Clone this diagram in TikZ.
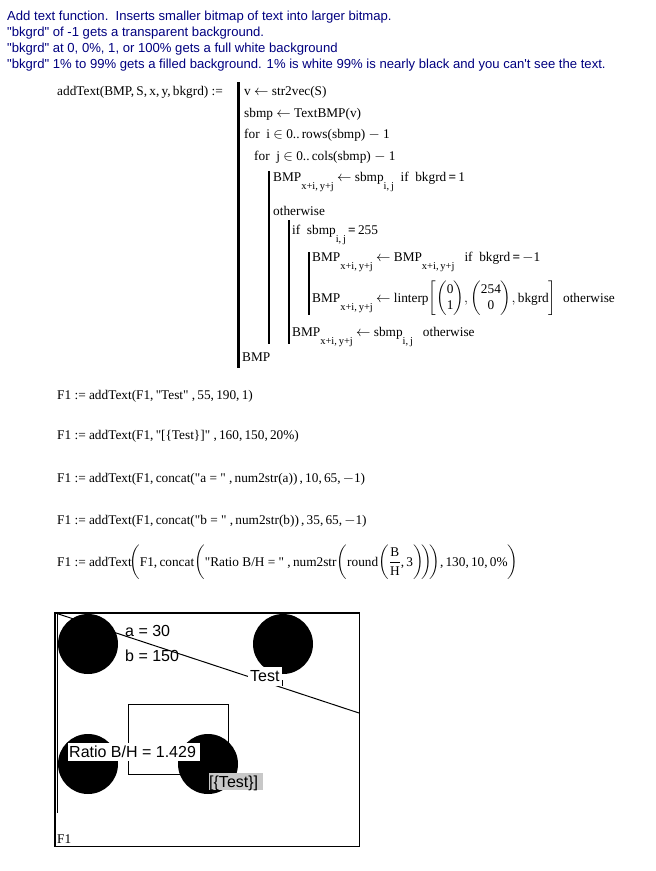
\documentclass[tikz,border=0pt]{standalone}
\usepackage{amsmath}
\usepackage{fontspec}
\setmainfont{Liberation Serif}[Ligatures=TeXOff]
\newfontfamily\arial{Liberation Sans}[Ligatures=TeXOff]
\definecolor{navy}{RGB}{0,0,128}
\definecolor{boxgray}{RGB}{200,200,200}
\newcommand\sbs[1]{\raisebox{-8.5pt}{\fontsize{10.5}{12}\selectfont #1}}
\newcommand\lar{\ $\leftarrow$\ }
\newcommand\beq{\textbf{\,=\,}}
\newcommand\dq{{\char34}}
\begin{document}
\begin{tikzpicture}[x=1pt,y=-1pt,
  hdr/.style={anchor=base west,inner sep=0,font=\arial\fontsize{13.1}{15}\selectfont,text=navy},
  mc/.style={anchor=base west,inner sep=0,font=\fontsize{13.3}{15.5}\selectfont},
  bar/.style={line width=2.2pt},
  pictext/.style={anchor=base west,inner sep=0,font=\arial\fontsize{16}{18}\selectfont},
  disk/.style={fill=black},
  thin/.style={line width=1pt}
]
\useasboundingbox[fill=white] (0,0) rectangle (656,871);

% header
\node[hdr] (h1) at (7,20) {Add text function.\ \ Inserts smaller bitmap of text into larger bitmap.};
\node[hdr] (h2) at (7,36) {\dq bkgrd\dq\ of -1 gets a transparent background.};
\node[hdr] (h3) at (7,52) {\dq bkgrd\dq\ at 0, 0\%, 1, or 100\% gets a full white background};
\node[hdr] (h4) at (7,68) {\dq bkgrd\dq\ 1\% to 99\% gets a filled background. 1\% is white 99\% is nearly black and you can{\char39}t see the text.};

% program
\node[mc] (def) at (57,95) {addText(BMP,\,S,\,x,\,y,\,bkgrd)\ :=};
\node[mc] (p1) at (244,95) {v\lar str2vec(S)};
\node[mc] (p2) at (244,117) {sbmp\lar TextBMP(v)};
\node[mc] (p3) at (244,138) {for\ \ i $\in$ 0..\,rows(sbmp) $-$ 1};
\node[mc] (p4) at (254,160) {for\ \ j $\in$ 0..\,cols(sbmp) $-$ 1};
\node[mc] (p5) at (273,181) {BMP\sbs{x+i,\,y+j}\lar sbmp\sbs{i,\,j}\ \ if\ \ bkgrd\beq 1};
\node[mc] (p6) at (273,215) {otherwise};
\node[mc] (p7) at (292,234) {if\ \ sbmp\sbs{i,\,j}\beq 255};
\node[mc] (p8) at (312,261) {BMP\sbs{x+i,\,y+j}\lar BMP\sbs{x+i,\,y+j}\ \ \ if\ \ bkgrd\beq $-$1};
\node[mc] (p9) at (312,302) {BMP\sbs{x+i,\,y+j}\lar linterp$\left[\begin{pmatrix}\text{0}\\ \text{1}\end{pmatrix}\!,\begin{pmatrix}\text{254}\\ \text{0}\end{pmatrix}\!,\text{bkgrd}\right]$\ \ otherwise};
\node[mc] (p10) at (292,336) {BMP\sbs{x+i,\,y+j}\lar sbmp\sbs{i,\,j}\ \ \ otherwise};
\node[mc] (p11) at (242,361) {BMP};

\draw[bar] (238.5,82) -- (238.5,368);
\draw[bar] (269,171) -- (269,344);
\draw[bar] (289,220) -- (289,344);
\draw[bar] (309,252) -- (309,315);

% F1 statements
\node[mc] (f1) at (57,399) {F1 := addText(F1,\,\dq Test\dq\ ,\,55,\,190,\,1)};
\node[mc] (f2) at (57,439) {F1 := addText(F1,\,\dq[\{Test\}]\dq\ ,\,160,\,150,\,20\%)};
\node[mc] (f3) at (57,482) {F1 := addText(F1,\,concat(\dq a = \dq\ ,\,num2str(a))\,,\,10,\,65,\,$-$1)};
\node[mc] (f4) at (57,524) {F1 := addText(F1,\,concat(\dq b = \dq\ ,\,num2str(b))\,,\,35,\,65,\,$-$1)};
\node[mc] (f5) at (57,566) {F1 := addText$\displaystyle\!\left(\text{F1,\,concat}\!\left(\text{\dq Ratio B/H = \dq\ ,\,num2str}\!\left(\text{round}\!\left(\frac{\text{B}}{\text{H}}\text{,\,3}\right)\!\right)\!\right)\!\text{,\,130,\,10,\,0\%}\right)$};

% bottom picture
\coordinate (ls) at (57,613.5);
\coordinate (le) at (359,713);
\draw[thin] (ls) -- (le);
\draw[thin] (128,704) rectangle (228,774);
\fill[disk] (88,644) circle (30);
\fill[disk] (283,644) circle (30);
\fill[disk] (88,764) circle (30);
\fill[disk] (208,764) circle (30);

\node[pictext] (ta) at (125,636) {a = 30};
\node[pictext] (tb) at (125,661) {b = 150};
\fill[white] (248,667) rectangle (282,686);
\node[pictext] (tt) at (250,681) {Test};
\draw[line width=0.8pt] (282.5,680) -- (282.5,686);
\fill[white] (68,743) rectangle (200,761);
\node[pictext] (tr) at (69,757) {Ratio B/H = 1.429};
\fill[boxgray] (209,773) rectangle (263,790);
\node[pictext] (tg) at (209,787) {[\{Test\}]};

\node[mc] (lab) at (57,843) {F1};

\draw[line width=1.3pt] (55,613) rectangle (359.5,846.5);
\draw[line width=1pt] (57.8,613) -- (57.8,813);
\end{tikzpicture}
\end{document}
